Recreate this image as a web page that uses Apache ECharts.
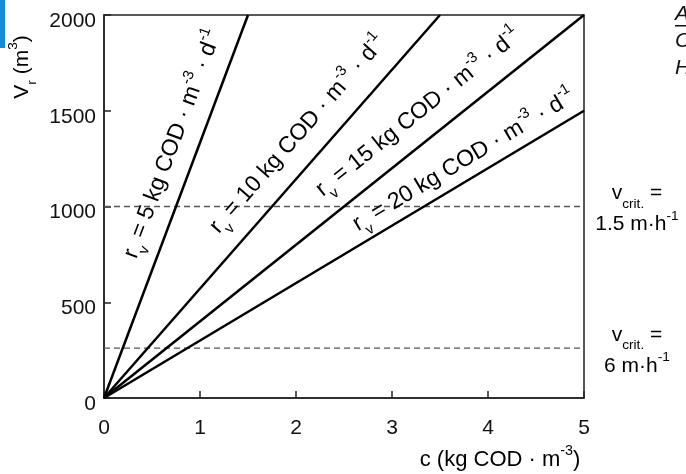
<!DOCTYPE html>
<html>
<head>
<meta charset="utf-8">
<script src="https://cdn.jsdelivr.net/npm/echarts@6/dist/echarts.min.js"></script>
<style>
html,body{margin:0;padding:0;background:#fff;}
#c{width:686px;height:474px;}
</style>
</head>
<body>
<div id="c"></div>
<script>
// ---- data ----
const xTickValues = [0, 1, 2, 3, 4, 5];
const yTickValues = [0, 500, 1000, 1500, 2000];
const rateValues = ['5', '10', '15', '20'];
const lineEndC = [1.5, 3.5, 5, 5];
const lineEndV = [2000, 2000, 2000, 1500];
const critLevels = [1000, 260];
const critSpeeds = ['1.5', '6'];

const FONT = 'Liberation Sans, Arial, sans-serif';
const chart = echarts.init(document.getElementById('c'), null, {renderer: 'canvas'});

const series = [];
rateValues.forEach((r, i) => {
  series.push({
    type: 'line', name: 'rv' + r, symbol: 'none', animation: false,
    lineStyle: {color: '#000', width: 2.5},
    data: [[0, 0], [lineEndC[i], lineEndV[i]]]
  });
});
critLevels.forEach((v, i) => {
  series.push({
    type: 'line', name: 'crit' + i, symbol: 'none', animation: false,
    lineStyle: {color: '#555', width: 1.3, type: [6, 4]},
    data: [[0, v], [5, v]], z: 1
  });
});

chart.setOption({
  animation: false,
  grid: {left: 104, right: 102, top: 15, bottom: 76, show: true, borderColor: '#222', borderWidth: 1.5},
  xAxis: {
    type: 'value', min: 0, max: 5, interval: 1,
    axisLine: {show: true, lineStyle: {color: '#222', width: 1.5}},
    axisTick: {inside: true, length: 7, lineStyle: {color: '#222', width: 1.5}},
    splitLine: {show: false},
    axisLabel: {color: '#111', fontSize: 21, fontFamily: FONT, margin: 20,
      formatter: v => xTickValues.includes(v) ? String(v) : ''}
  },
  yAxis: {
    type: 'value', min: 0, max: 2000, interval: 500,
    axisLine: {show: true, lineStyle: {color: '#222', width: 1.5}},
    axisTick: {inside: true, length: 7, lineStyle: {color: '#222', width: 1.5}},
    splitLine: {show: false},
    axisLabel: {color: '#111', fontSize: 21, fontFamily: FONT, margin: 8,
      verticalAlign: 'top', lineHeight: 12,
      formatter: v => yTickValues.includes(v) ? String(v) : ''}
  },
  series: series
});

function rich(base) {
  const s = base * 0.65;
  return {
    t: {fontSize: base, fontFamily: FONT, color: '#111', lineHeight: base + 4},
    sub: {fontSize: s, fontFamily: FONT, color: '#111', verticalAlign: 'bottom', lineHeight: s, padding: [0, 0, -5, 0]},
    sup: {fontSize: s, fontFamily: FONT, color: '#111', verticalAlign: 'top', lineHeight: s, padding: [-3, 0, 0, 0]}
  };
}

// line label placement (fraction along line, perpendicular offset px)
const labelT = [0.64, 0.64, 0.69, 0.77];
const labelD = [25, 28, 27, 19];

const graphics = [];
rateValues.forEach((r, i) => {
  const p0 = chart.convertToPixel({gridIndex: 0}, [0, 0]);
  const p1 = chart.convertToPixel({gridIndex: 0}, [lineEndC[i], lineEndV[i]]);
  const dx = p1[0] - p0[0], dy = p1[1] - p0[1];
  const len = Math.hypot(dx, dy);
  const ux = dx / len, uy = dy / len;
  const nx = uy, ny = -ux;
  const cx = p0[0] + labelT[i] * len * ux + labelD[i] * nx;
  const cy = p0[1] + labelT[i] * len * uy + labelD[i] * ny;
  graphics.push({
    type: 'text', x: cx, y: cy, rotation: Math.atan2(-dy, dx), z: 10,
    style: {
      text: '{t|r}{sub|v}{t| = ' + r + ' kg COD · m}{sup|-3}{t| · d}{sup|-1}',
      rich: rich(23), align: 'center', verticalAlign: 'middle'
    }
  });
});

// critical velocity annotations
critLevels.forEach((v, i) => {
  const p = chart.convertToPixel({gridIndex: 0}, [5, v]);
  graphics.push({
    type: 'text', x: 637, y: p[1] - 13, z: 10,
    style: {text: '{t|v}{sub|crit.}{t| =}', rich: rich(21), align: 'center', verticalAlign: 'middle'}
  });
  graphics.push({
    type: 'text', x: 637, y: p[1] + 18, z: 10,
    style: {text: '{t|' + critSpeeds[i] + ' m·h}{sup|-1}', rich: rich(21), align: 'center', verticalAlign: 'middle'}
  });
});

// axis names
graphics.push({
  type: 'text', x: 22, y: 67, rotation: Math.PI / 2, z: 10,
  style: {text: '{t|V}{sub|r}{t| (m}{sup|3}{t|)}', rich: rich(21), align: 'center', verticalAlign: 'middle'}
});
graphics.push({
  type: 'text', x: 500, y: 460, z: 10,
  style: {text: '{t|c (kg COD · m}{sup|-3}{t|)}', rich: rich(22), align: 'center', verticalAlign: 'middle'}
});

// cut-off text at top right
['A', 'C', 'H'].forEach((s, i) => {
  graphics.push({
    type: 'text', x: 675, y: 14 + i * 27, z: 10,
    style: {text: s, fontSize: 21, fontStyle: 'italic', fontFamily: FONT, fill: '#111', align: 'left', verticalAlign: 'middle'}
  });
});
graphics.push({type: 'rect', shape: {x: 675, y: 25, width: 11, height: 1.5}, style: {fill: '#111'}});
// blue marker at top left
graphics.push({type: 'rect', shape: {x: 0, y: 0, width: 5, height: 48}, style: {fill: '#1a8ad8'}});

chart.setOption({graphic: graphics});
</script>
</body>
</html>
